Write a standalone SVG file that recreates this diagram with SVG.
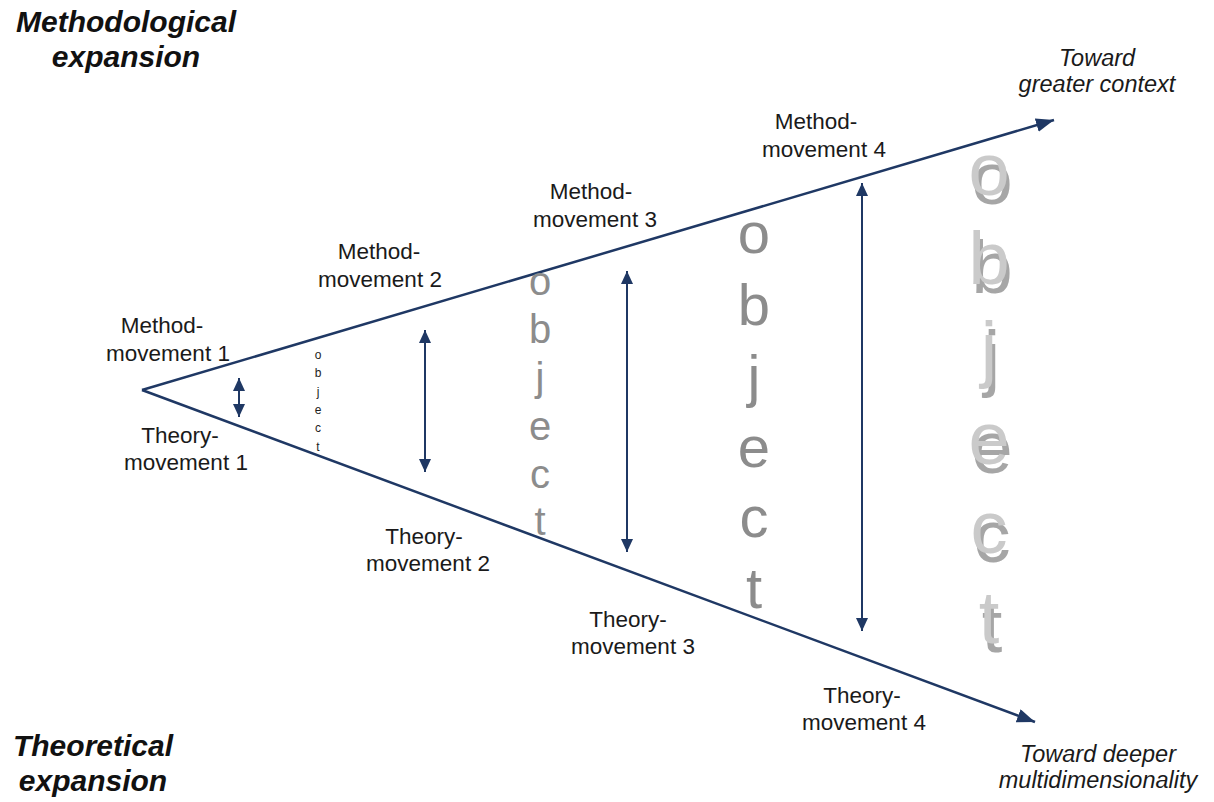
<svg xmlns="http://www.w3.org/2000/svg" width="1214" height="802" viewBox="0 0 1214 802">
<style>
.lbl{font-family:"Liberation Sans",Arial,sans-serif;font-size:22.5px;fill:#1a1a1a;text-anchor:middle}
.head{font-family:"Liberation Sans",Arial,sans-serif;font-size:30px;font-weight:bold;font-style:italic;fill:#111}
.dir{font-family:"Liberation Sans",Arial,sans-serif;font-size:23.5px;font-style:italic;fill:#1a1a1a;text-anchor:middle}
.obj{font-family:"Liberation Sans",Arial,sans-serif;text-anchor:middle}
.main{stroke:#1f3864;stroke-width:2.5;fill:none}
.dbl{stroke:#1f3864;stroke-width:2;fill:none}
</style>
<defs>
<marker id="bigArrow" markerUnits="userSpaceOnUse" markerWidth="20" markerHeight="14" refX="18" refY="7" orient="auto">
<path d="M0,0 L18,7 L0,14 Z" fill="#1f3864"/>
</marker>
<marker id="smallArrow" markerUnits="userSpaceOnUse" markerWidth="14" markerHeight="12" refX="13" refY="6" orient="auto-start-reverse">
<path d="M0,0 L13,6 L0,12 Z" fill="#1f3864"/>
</marker>
<filter id="ghost" x="-20%" y="-5%" width="140%" height="115%">
<feFlood flood-color="#a6a6a6" result="c"/>
<feComposite in="c" in2="SourceAlpha" operator="in" result="dark"/>
<feOffset in="dark" dx="3" dy="9" result="off"/>
<feMerge><feMergeNode in="off"/><feMergeNode in="SourceGraphic"/></feMerge>
</filter>
</defs>
<rect width="1214" height="802" fill="#ffffff"/>

<g id="connectors">
<line class="main" x1="142" y1="390" x2="1054" y2="120" marker-end="url(#bigArrow)"/>
<line class="main" x1="142" y1="390" x2="1035" y2="722" marker-end="url(#bigArrow)"/>
<line class="dbl" x1="239" y1="378" x2="239" y2="417" marker-start="url(#smallArrow)" marker-end="url(#smallArrow)"/>
<line class="dbl" x1="425" y1="330" x2="425" y2="472" marker-start="url(#smallArrow)" marker-end="url(#smallArrow)"/>
<line class="dbl" x1="627" y1="271" x2="627" y2="552" marker-start="url(#smallArrow)" marker-end="url(#smallArrow)"/>
<line class="dbl" x1="862" y1="183" x2="862" y2="631" marker-start="url(#smallArrow)" marker-end="url(#smallArrow)"/>
</g>

<g id="heading-methodological">
<text class="head" x="126" y="32" text-anchor="middle">Methodological</text>
<text class="head" x="126" y="67" text-anchor="middle">expansion</text>
</g>
<g id="heading-theoretical">
<text class="head" x="93" y="756" text-anchor="middle">Theoretical</text>
<text class="head" x="93" y="791" text-anchor="middle">expansion</text>
</g>
<g id="toward-context">
<text class="dir" x="1097" y="66">Toward</text>
<text class="dir" x="1097" y="92">greater context</text>
</g>
<g id="toward-depth">
<text class="dir" x="1098" y="762">Toward deeper</text>
<text class="dir" x="1098" y="788">multidimensionality</text>
</g>

<g id="method-movement-1"><text class="lbl" x="162" y="333">Method-</text><text class="lbl" x="168" y="361">movement 1</text></g>
<g id="method-movement-2"><text class="lbl" x="379" y="259">Method-</text><text class="lbl" x="380" y="287">movement 2</text></g>
<g id="method-movement-3"><text class="lbl" x="591" y="199">Method-</text><text class="lbl" x="595" y="227">movement 3</text></g>
<g id="method-movement-4"><text class="lbl" x="816" y="129">Method-</text><text class="lbl" x="824" y="157">movement 4</text></g>
<g id="theory-movement-1"><text class="lbl" x="180" y="443">Theory-</text><text class="lbl" x="186" y="470">movement 1</text></g>
<g id="theory-movement-2"><text class="lbl" x="424" y="544">Theory-</text><text class="lbl" x="428" y="571">movement 2</text></g>
<g id="theory-movement-3"><text class="lbl" x="628" y="627">Theory-</text><text class="lbl" x="633" y="654">movement 3</text></g>
<g id="theory-movement-4"><text class="lbl" x="862" y="703">Theory-</text><text class="lbl" x="864" y="730">movement 4</text></g>

<g id="object-1">
<text class="obj" font-size="12" fill="#222">
<tspan x="318" y="359">o</tspan><tspan x="318" y="377">b</tspan><tspan x="318" y="396">j</tspan><tspan x="318" y="414">e</tspan><tspan x="318" y="432">c</tspan><tspan x="318" y="451">t</tspan>
</text>
</g>
<g id="object-2">
<text class="obj" font-size="40" fill="#8c8c8c">
<tspan x="540" y="295">o</tspan><tspan x="540" y="343">b</tspan><tspan x="540" y="391">j</tspan><tspan x="540" y="440">e</tspan><tspan x="540" y="488">c</tspan><tspan x="540" y="535">t</tspan>
</text>
</g>
<g id="object-3">
<text class="obj" font-size="58" fill="#8c8c8c">
<tspan x="754" y="253">o</tspan><tspan x="754" y="325">b</tspan><tspan x="754" y="396">j</tspan><tspan x="754" y="467">e</tspan><tspan x="754" y="537">c</tspan><tspan x="754" y="608">t</tspan>
</text>
</g>
<g id="object-4">
<text class="obj" font-size="74" fill="#cacaca" filter="url(#ghost)">
<tspan x="989" y="195">o</tspan><tspan x="989" y="284">b</tspan><tspan x="989" y="374">j</tspan><tspan x="989" y="464">e</tspan><tspan x="989" y="553">c</tspan><tspan x="989" y="643">t</tspan>
</text>
</g>
</svg>
